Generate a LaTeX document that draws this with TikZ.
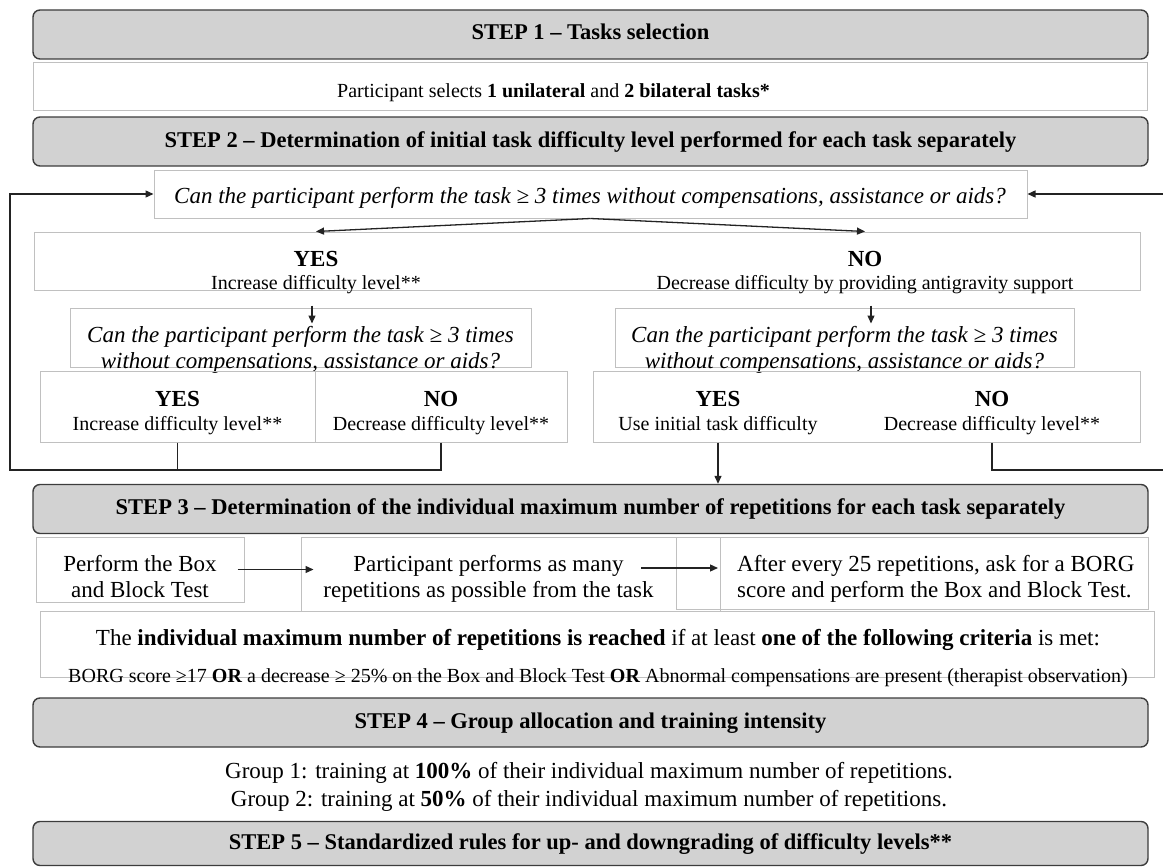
\documentclass[tikz,border=0pt]{standalone}
\usepackage{fontspec}
\setmainfont{Liberation Serif}
\usetikzlibrary{arrows.meta}

\definecolor{stepfill}{RGB}{210,210,210}
\definecolor{stepline}{RGB}{60,60,60}
\definecolor{boxline}{RGB}{192,192,192}
\definecolor{linkline}{RGB}{35,35,35}

\tikzset{
  stepbox/.style={draw=stepline, fill=stepfill, rounded corners=7pt, line width=1.4pt,
    minimum width=1115pt, minimum height=49pt, inner sep=0pt,
    font=\fontsize{22.5}{26}\selectfont\bfseries, text height=16pt, text depth=5pt},
  plainbox/.style={draw=boxline, line width=1pt, inner sep=0pt},
  maintxt/.style={inner sep=0pt, anchor=base, align=center, font=\fontsize{23}{26}\selectfont},
  boldtxt/.style={maintxt, font=\fontsize{23}{26}\selectfont\bfseries},
  qtxt/.style={maintxt, font=\fontsize{23}{26}\selectfont\itshape},
  subtxt/.style={maintxt, font=\fontsize{20}{24}\selectfont},
  arr/.style={-{Triangle[length=8pt,width=7pt]}, line width=1.3pt, draw=linkline},
  loopline/.style={line width=1.3pt, draw=linkline},
}

\begin{document}
\begin{tikzpicture}[x=1pt, y=-1pt]
\useasboundingbox (0,0) rectangle (1163,867);
\clip (0,0) rectangle (1163,867);

% Step 1
\node[stepbox] (step1) at (590.5,34.5) {STEP 1 – Tasks selection};
\node[plainbox, minimum width=1114, minimum height=48] (taskbox) at (590,87) {};
\node[subtxt] (tasktxt) at (553.5,98) {Participant selects \textbf{1 unilateral} and \textbf{2 bilateral tasks*}};

% Step 2
\node[stepbox] (step2) at (590.5,141.5) {STEP 2 – Determination of initial task difficulty level performed for each task separately};
\node[plainbox, minimum width=873, minimum height=48] (q1) at (590.5,194) {};
\node[qtxt] (q1txt) at (590,203) {Can the participant perform the task ≥ 3 times without compensations, assistance or aids?};

% first answer
\node[plainbox, minimum width=1106, minimum height=58] (yn1) at (587,261) {};
\node[boldtxt] (yes1) at (316,266) {YES};
\node[subtxt] (yes1txt) at (316,289) {Increase difficulty level**};
\node[boldtxt] (no1) at (865,266) {NO};
\node[subtxt] (no1txt) at (865,289) {Decrease difficulty by providing antigravity support};

\draw[arr] (q1.south) -- (yes1 |- yn1.north);
\draw[arr] (q1.south) -- (no1 |- yn1.north);

% second question (base = last line)
\node[plainbox, minimum width=461, minimum height=59] (q2l) at (300.5,337.5) {};
\node[qtxt] (q2ltxt) at (300.5,368) {Can the participant perform the task ≥ 3 times\\without compensations, assistance or aids?};
\node[plainbox, minimum width=459, minimum height=59] (q2r) at (844.5,337.5) {};
\node[qtxt] (q2rtxt) at (844.5,368) {Can the participant perform the task ≥ 3 times\\without compensations, assistance or aids?};

\draw[arr] (yes1 |- q2l.north) ++(-4,-2) -- ++(0,18);
\draw[arr] (no1 |- q2r.north) ++(6,-2) -- ++(0,18);

% second answer
\node[plainbox, minimum width=275, minimum height=71] (yes2l) at (177.5,406.5) {};
\node[plainbox, minimum width=252, minimum height=71] (no2l) at (441,406.5) {};
\node[boldtxt] (yes2ltit) at (177.5,406) {YES};
\node[subtxt] (yes2ltxt) at (177.5,430) {Increase difficulty level**};
\node[boldtxt] (no2ltit) at (441,406) {NO};
\node[subtxt] (no2ltxt) at (441,430) {Decrease difficulty level**};

\node[plainbox, minimum width=547, minimum height=71] (yn2r) at (866.5,406.5) {};
\node[boldtxt] (yes2rtit) at (718,406) {YES};
\node[subtxt] (yes2rtxt) at (718,430) {Use initial task difficulty};
\node[boldtxt] (no2rtit) at (992,406) {NO};
\node[subtxt] (no2rtxt) at (992,430) {Decrease difficulty level**};

% Step 3
\node[stepbox] (step3) at (590.5,509) {STEP 3 – Determination of the individual maximum number of repetitions for each task separately};

% loops back to the question
\coordinate (loopL) at (10,470);
\coordinate (loopR) at (1170,470);
\draw[loopline] (yes2ltit |- yes2l.south) -- (yes2ltit |- loopL);
\draw[arr] (no2ltit |- no2l.south) |- (loopL) |- (q1.west);
\draw[arr] (no2rtit |- yn2r.south) |- (loopR) |- (q1.east);
\draw[arr] (yes2rtit |- yn2r.south) -- (yes2rtit |- step3.north);

\node[plainbox, minimum width=208, minimum height=65] (perf) at (140,569.5) {};
\node[maintxt] (perftxt) at (140,597) {Perform the Box\\and Block Test};
\node[plainbox, minimum width=419, minimum height=74] (rep) at (510.5,574) {};
\node[maintxt] (reptxt) at (488.5,597) {Participant performs as many\\repetitions as possible from the task};
\node[plainbox, minimum width=472, minimum height=72] (borg) at (912,573) {};
\node[maintxt, align=left, anchor=base west] (borgtxt) at (737,597) {After every 25 repetitions, ask for a BORG\\score and perform the Box and Block Test.};

\coordinate (repout) at (641,568);
\draw[arr, shorten <=-7pt, shorten >=-13pt] (perf.east) -- (perf.east -| rep.west);
\draw[arr, shorten >=19pt] (repout) -- (borgtxt.west |- repout);

% stop criteria
\node[plainbox, minimum width=1114, minimum height=66] (crit) at (597,644) {};
\node[maintxt] (crittxt) at (598,645) {The \textbf{individual maximum number of repetitions is reached} if at least \textbf{one of the following criteria} is met:};
\node[subtxt] (critlist) at (598,682) {BORG score ≥17 \textbf{OR} a decrease ≥ 25\% on the Box and Block Test \textbf{OR} Abnormal compensations are present (therapist observation)};

% Step 4
\node[stepbox] (step4) at (590.5,722.5) {STEP 4 – Group allocation and training intensity};
\node[maintxt, font=\fontsize{23}{28}\selectfont] (groups) at (589,806) {Group 1: training at \textbf{100\%} of their individual maximum number of repetitions.\\Group 2: training at \textbf{50\%} of their individual maximum number of repetitions.};

% Step 5
\node[stepbox, minimum height=44pt] (step5) at (590.5,843.5) {STEP 5 – Standardized rules for up- and downgrading of difficulty levels**};

\end{tikzpicture}
\end{document}
